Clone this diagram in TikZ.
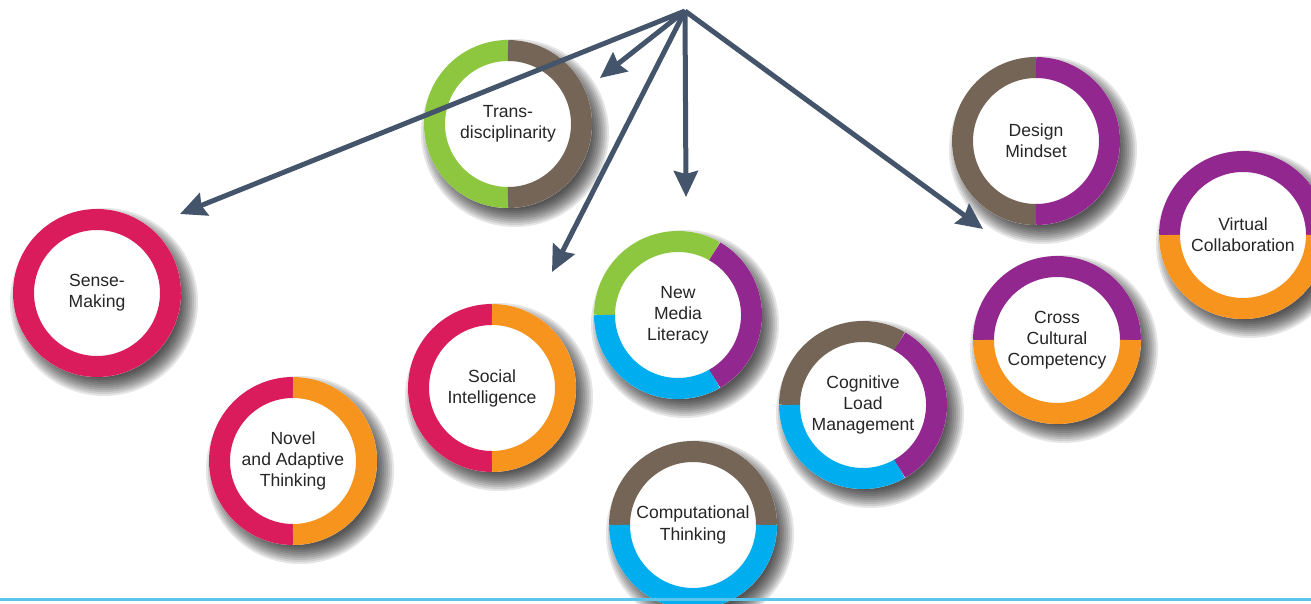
\documentclass[tikz,border=0pt]{standalone}
\usepackage{fontspec}
\setmainfont{Liberation Sans}
\usetikzlibrary{arrows.meta,backgrounds}

\definecolor{skillred}{RGB}{218,28,92}
\definecolor{skillorange}{RGB}{247,148,30}
\definecolor{skillgreen}{RGB}{141,198,63}
\definecolor{skillbrown}{RGB}{116,101,87}
\definecolor{skillpurple}{RGB}{146,39,143}
\definecolor{skillblue}{RGB}{0,174,239}
\definecolor{linkgray}{RGB}{68,84,106}
\definecolor{baseblue}{RGB}{91,197,236}

\newcommand{\ringarc}[4]{\draw[ring,#4] (#1.center) ++(#2:0.735) arc[start angle=#2,end angle=#3,radius=0.735];}

\begin{document}
\begin{tikzpicture}[
    ring/.style={line width=0.21cm},
    skill/.style={circle,fill=white,minimum size=1.68cm,inner sep=0pt,align=center,
      text=black!85,font=\fontsize{5}{6}\selectfont},
    link/.style={line width=0.05cm,draw=linkgray,-{Stealth[length=0.26cm,width=0.24cm,inset=0.03cm]}}]
    \useasboundingbox (0,0) rectangle (13.11,-6.04);
    \node[skill] (sense) at (0.97,-2.93) {Sense-\\Making};
    \node[skill] (trans) at (5.08,-1.24) {Trans-\\disciplinarity};
    \node[skill] (design) at (10.36,-1.41) {Design\\Mindset};
    \node[skill] (virtual) at (12.43,-2.35) {Virtual\\Collaboration};
    \node[skill] (novel) at (2.93,-4.61) {Novel\\and Adaptive\\Thinking};
    \node[skill] (social) at (4.92,-3.88) {Social\\Intelligence};
    \node[skill] (newmedia) at (6.78,-3.15) {New\\Media\\Literacy};
    \node[skill] (cross) at (10.57,-3.40) {Cross\\Cultural\\Competency};
    \node[skill] (cognitive) at (8.63,-4.05) {Cognitive\\Load\\Management};
    \node[skill] (computational) at (6.93,-5.25) {Computational\\Thinking};
    \begin{scope}[on background layer]
      \foreach \n in {sense,trans,design,virtual,novel,social,newmedia,cross,cognitive,computational}
        \foreach \k in {1,...,10}
          \fill[black,opacity=0.1] ([shift={(0.07,-0.09)}]\n.center) circle[radius=0.96-\k*0.02];
    \end{scope}
    \ringarc{sense}{0}{360}{skillred}
    \ringarc{trans}{90}{270}{skillgreen}
    \ringarc{trans}{-90}{90}{skillbrown}
    \ringarc{design}{90}{270}{skillbrown}
    \ringarc{design}{-90}{90}{skillpurple}
    \ringarc{virtual}{0}{180}{skillpurple}
    \ringarc{virtual}{180}{360}{skillorange}
    \ringarc{cross}{0}{180}{skillpurple}
    \ringarc{cross}{180}{360}{skillorange}
    \ringarc{social}{90}{270}{skillred}
    \ringarc{social}{-90}{90}{skillorange}
    \ringarc{novel}{90}{270}{skillred}
    \ringarc{novel}{-90}{90}{skillorange}
    \ringarc{newmedia}{60}{180}{skillgreen}
    \ringarc{newmedia}{180}{300}{skillblue}
    \ringarc{newmedia}{-60}{60}{skillpurple}
    \ringarc{cognitive}{60}{180}{skillbrown}
    \ringarc{cognitive}{180}{300}{skillblue}
    \ringarc{cognitive}{-60}{60}{skillpurple}
    \ringarc{computational}{0}{180}{skillbrown}
    \ringarc{computational}{180}{360}{skillblue}
    \draw[baseblue,line width=0.03cm] (0,-5.99) -- (13.11,-5.99);
    \coordinate (hub) at (6.85,-0.11);
    \coordinate (tosense) at (1.80,-2.14);
    \coordinate (totrans) at (6.00,-0.78);
    \coordinate (tosocial) at (5.52,-2.72);
    \coordinate (tonewmedia) at (6.86,-1.97);
    \coordinate (tocross) at (9.83,-2.29);
    \draw[link] (hub) -- (tosense);
    \draw[link] (hub) -- (totrans);
    \draw[link] (hub) -- (tosocial);
    \draw[link] (hub) -- (tonewmedia);
    \draw[link] (hub) -- (tocross);
\end{tikzpicture}
\end{document}
